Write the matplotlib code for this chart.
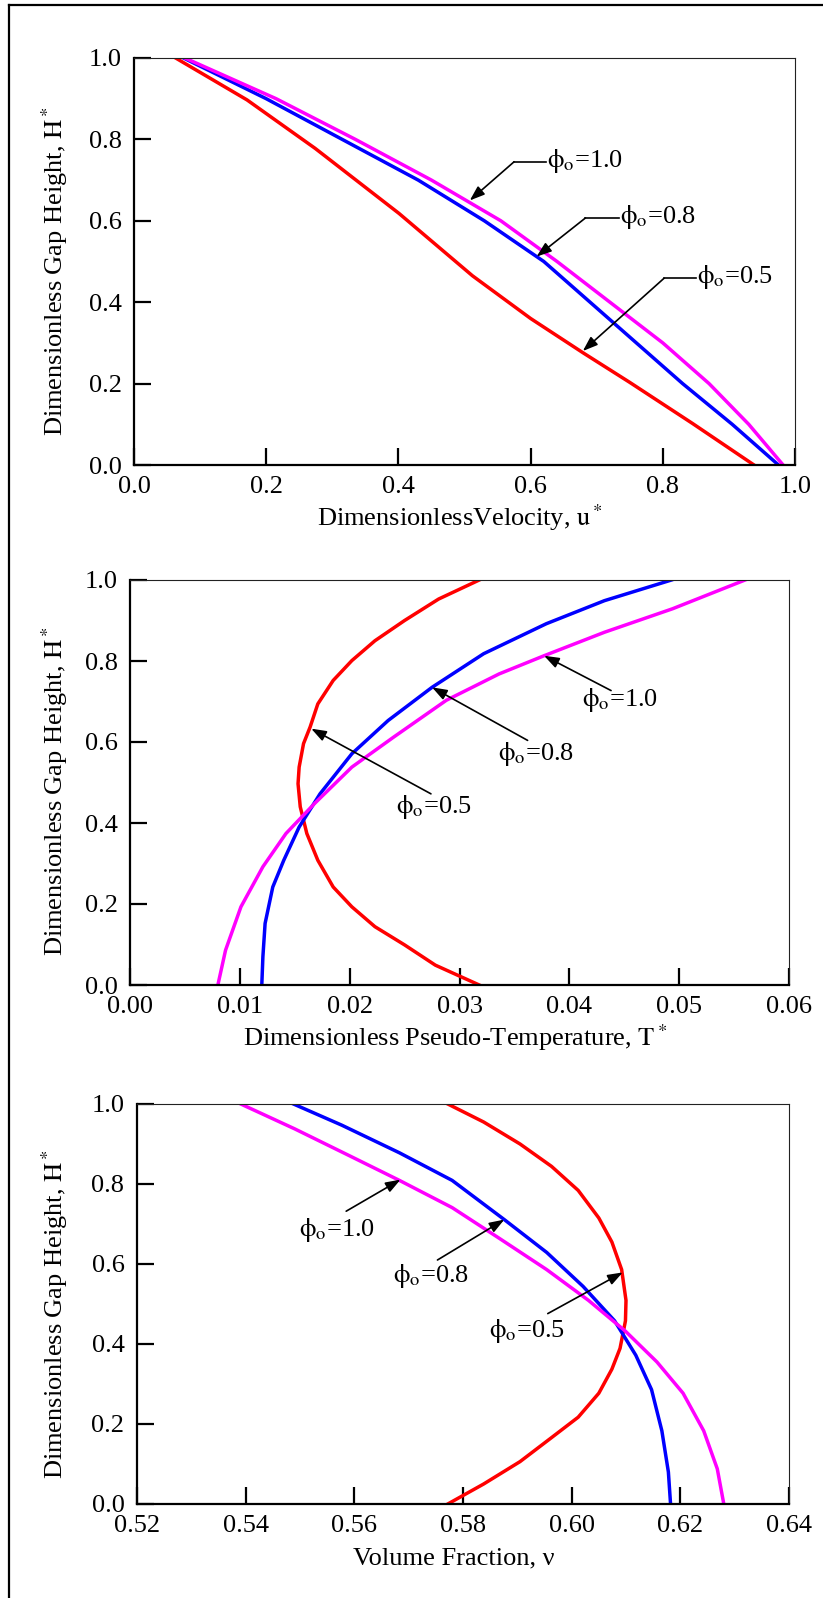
import numpy as np
import matplotlib
matplotlib.use("Agg")
from matplotlib import pyplot as plt
from matplotlib.lines import Line2D

plt.rcParams['font.family'] = ['Liberation Serif', 'DejaVu Serif']
plt.rcParams['mathtext.fontset'] = 'stix'

W, H = 823, 1598

# --- panel 1: velocity profiles (u*, H*)
vel_red_u = [0.063, 0.171, 0.274, 0.401, 0.512, 0.600, 0.680, 0.750, 0.845, 0.938]
vel_red_h = [1.0, 0.897, 0.778, 0.618, 0.465, 0.360, 0.275, 0.203, 0.102, 0.0]
vel_h = [1.0, 0.9, 0.8, 0.7, 0.6, 0.5, 0.4, 0.3, 0.2, 0.1, 0.0]
vel_blue_u = [0.075, 0.200, 0.315, 0.430, 0.530, 0.620, 0.690, 0.760, 0.830, 0.905, 0.975]
vel_mag_u = [0.077, 0.215, 0.335, 0.450, 0.555, 0.640, 0.720, 0.800, 0.870, 0.930, 0.982]

# --- panel 2: pseudo-temperature profiles (T*, H*)
tmp_red_t = [0.0318, 0.0281, 0.0250, 0.0223, 0.0202, 0.0185, 0.0171, 0.0164, 0.0158, 0.0154,
             0.0153, 0.0155, 0.0161, 0.0171, 0.0185, 0.0202, 0.0223, 0.0250, 0.0278, 0.0318]
tmp_red_h = [1.0, 0.953, 0.900, 0.850, 0.801, 0.752, 0.694, 0.637, 0.596, 0.538,
             0.497, 0.440, 0.374, 0.308, 0.242, 0.193, 0.144, 0.099, 0.049, 0.0]
tmp_blue_t = [0.0120, 0.0121, 0.0123, 0.0130, 0.0140, 0.0154, 0.0173, 0.0202, 0.0235, 0.0275,
              0.0322, 0.0379, 0.0432, 0.0493]
tmp_blue_h = [0.0, 0.070, 0.152, 0.242, 0.308, 0.390, 0.472, 0.571, 0.653, 0.735,
              0.818, 0.892, 0.949, 1.0]
tmp_mag_t = [0.0080, 0.0087, 0.0101, 0.0121, 0.0142, 0.0168, 0.0202, 0.0240, 0.0288, 0.0336,
             0.0377, 0.0432, 0.0494, 0.0560]
tmp_mag_h = [0.0, 0.086, 0.193, 0.292, 0.374, 0.448, 0.538, 0.612, 0.703, 0.768,
             0.813, 0.871, 0.929, 1.0]

# --- panel 3: volume fraction profiles (nu, H*)
vf_red_v = [0.5772, 0.5838, 0.5905, 0.5963, 0.6012, 0.6050, 0.6074, 0.6092, 0.6100, 0.6099,
            0.6089, 0.6074, 0.6050, 0.6012, 0.5963, 0.5905, 0.5838, 0.5772]
vf_red_h = [1.0, 0.955, 0.900, 0.844, 0.784, 0.715, 0.655, 0.586, 0.509, 0.458,
            0.389, 0.337, 0.277, 0.217, 0.166, 0.106, 0.050, 0.0]
vf_blue_v = [0.5488, 0.5577, 0.5683, 0.5780, 0.5876, 0.5954, 0.6021, 0.6079, 0.6118, 0.6147,
             0.6166, 0.6178, 0.6182]
vf_blue_h = [1.0, 0.947, 0.878, 0.809, 0.711, 0.629, 0.544, 0.458, 0.372, 0.286,
             0.183, 0.080, 0.0]
vf_mag_v = [0.5391, 0.5490, 0.5586, 0.5683, 0.5780, 0.5867, 0.5954, 0.6031, 0.6099, 0.6157,
            0.6205, 0.6243, 0.6268, 0.6280]
vf_mag_h = [1.0, 0.938, 0.874, 0.809, 0.741, 0.664, 0.586, 0.509, 0.432, 0.355,
            0.277, 0.183, 0.088, 0.0]

phi_labels = [r'$\mathrm{\phi}_\mathrm{o}$=1.0', r'$\mathrm{\phi}_\mathrm{o}$=0.8',
              r'$\mathrm{\phi}_\mathrm{o}$=0.5']

RED, BLUE, MAG = '#ff0000', '#0000ff', '#ff00ff'
FS = 19


def px_rect(left, right, top, bottom):
    return [left / W, 1 - bottom / H, (right - left) / W, (bottom - top) / H]


def style_axes(ax, xticks, fmt):
    ax.set_ylim(0, 1)
    ax.set_yticks(np.arange(0, 1.01, 0.2))
    ax.set_yticklabels(['%.1f' % v for v in np.arange(0, 1.01, 0.2)])
    ax.set_xticks(xticks)
    ax.set_xticklabels([fmt % v for v in xticks])
    ax.set_xlim(xticks[0], xticks[-1])
    ax.tick_params(axis='both', direction='in', length=12, width=1.6,
                   labelsize=FS, top=False, right=False)
    ax.tick_params(axis='x', pad=8)
    ax.tick_params(axis='y', pad=9)
    for s in ['left', 'bottom']:
        ax.spines[s].set_linewidth(1.6)
    for s in ['top', 'right']:
        ax.spines[s].set_linewidth(0.8)
        ax.spines[s].set_color('#222222')
    ax.set_ylabel(r'Dimensionless Gap Height, $\mathrm{H}^*$', fontsize=FS)


def arrow(ax, start, tip):
    ax.annotate('', xy=tip, xytext=start,
                arrowprops=dict(arrowstyle='-|>,head_length=0.5,head_width=0.18',
                                color='k', lw=1.2, mutation_scale=18,
                                shrinkA=0, shrinkB=0))


fig = plt.figure(figsize=(W / 100, H / 100), dpi=100)

# frame lines (top and left only)
fig.add_artist(Line2D([9 / W, 1], [1 - 5 / H, 1 - 5 / H], color='k', lw=1.6))
fig.add_artist(Line2D([9 / W, 9 / W], [0, 1 - 5 / H], color='k', lw=1.6))

# panel 1
ax1 = fig.add_axes(px_rect(134, 795, 58, 465))
ax1.plot(vel_red_u, vel_red_h, color=RED, lw=2.5)
ax1.plot(vel_blue_u, vel_h, color=BLUE, lw=2.5)
ax1.plot(vel_mag_u, vel_h, color=MAG, lw=2.5)
style_axes(ax1, np.round(np.arange(0, 1.01, 0.2), 2), '%.1f')
ax1.set_xlabel(r'DimensionlessVelocity, $\mathrm{u}^*$', fontsize=FS)
ax1.xaxis.set_label_coords(0.493, -0.092)
ax1.yaxis.set_label_coords(-0.097, 0.477)
for txt, (x0, x1, y), tip in zip(phi_labels,
                                 [(0.575, 0.623, 0.745), (0.683, 0.733, 0.607), (0.802, 0.850, 0.459)],
                                 [(0.508, 0.650), (0.609, 0.512), (0.679, 0.280)]):
    ax1.plot([x0, x1], [y, y], color='k', lw=1.2)
    arrow(ax1, (x0, y), tip)
    ax1.text(x1 + 0.002, y + 0.003, txt, fontsize=FS, ha='left', va='center')

# panel 2
ax2 = fig.add_axes(px_rect(130, 789, 580, 985))
ax2.plot(tmp_red_t, tmp_red_h, color=RED, lw=2.5)
ax2.plot(tmp_blue_t, tmp_blue_h, color=BLUE, lw=2.5)
ax2.plot(tmp_mag_t, tmp_mag_h, color=MAG, lw=2.5)
style_axes(ax2, np.round(np.arange(0, 0.0601, 0.01), 3), '%.2f')
ax2.set_xlabel(r'Dimensionless Pseudo-Temperature, $\mathrm{T}^*$', fontsize=FS)
ax2.xaxis.set_label_coords(0.493, -0.092)
ax2.yaxis.set_label_coords(-0.091, 0.479)
for txt, pos, start, tip in zip(phi_labels,
                                [(0.0446, 0.703), (0.0370, 0.571), (0.0277, 0.440)],
                                [(0.0438, 0.727), (0.0362, 0.604), (0.0274, 0.472)],
                                [(0.0377, 0.813), (0.0275, 0.735), (0.0165, 0.633)]):
    arrow(ax2, start, tip)
    ax2.text(pos[0], pos[1], txt, fontsize=FS, ha='center', va='center')

# panel 3
ax3 = fig.add_axes(px_rect(137, 789, 1104, 1504))
ax3.plot(vf_red_v, vf_red_h, color=RED, lw=2.5)
ax3.plot(vf_blue_v, vf_blue_h, color=BLUE, lw=2.5)
ax3.plot(vf_mag_v, vf_mag_h, color=MAG, lw=2.5)
style_axes(ax3, np.round(np.arange(0.52, 0.6401, 0.02), 2), '%.2f')
ax3.set_xlabel('Volume Fraction, ν', fontsize=FS)
ax3.xaxis.set_label_coords(0.486, -0.108)
ax3.yaxis.set_label_coords(-0.103, 0.475)
for txt, pos, start, tip in zip(phi_labels,
                                [(0.5569, 0.685), (0.5741, 0.569), (0.5917, 0.432)],
                                [(0.5585, 0.732), (0.5753, 0.610), (0.5956, 0.476)],
                                [(0.5685, 0.811), (0.5876, 0.711), (0.6094, 0.579)]):
    arrow(ax3, start, tip)
    ax3.text(pos[0], pos[1], txt, fontsize=FS, ha='center', va='center')

fig.savefig('out.png', dpi=100)
